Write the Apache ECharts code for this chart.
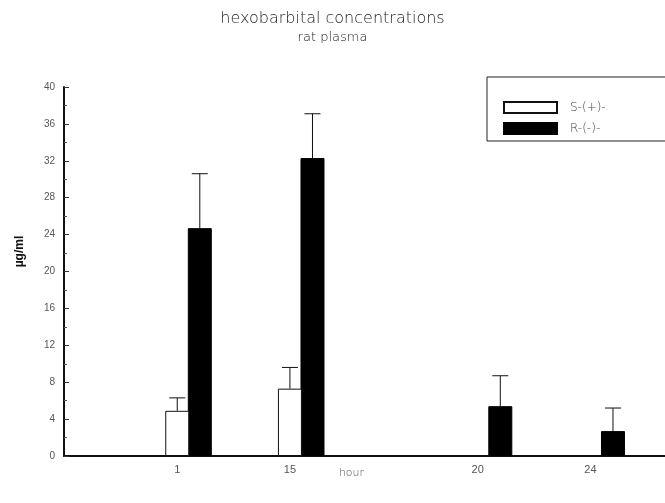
<!DOCTYPE html>
<html>
<head>
<meta charset="utf-8">
<script src="https://cdn.jsdelivr.net/npm/echarts@6/dist/echarts.min.js"></script>
<style>html,body{margin:0;padding:0;background:#fff}#c{width:665px;height:503px}</style>
</head>
<body>
<div id="c"></div>
<script>
// ---- data ----
const categories = ["1", "15", "20", "24"];          // x tick labels
const groupSlot = [0, 6, 16, 22];                     // axis slot of each category (uneven spacing in original)
const seriesNames = ["S-(+)-", "R-(-)-"];
const sValues = [4.9, 7.3, 0, 0];                     // µg/ml
const sErrors = [1.4, 2.3, 0, 0];
const rValues = [24.7, 32.3, 5.4, 2.7];
const rErrors = [5.9, 4.8, 3.3, 2.5];
const yTicks = [0, 4, 8, 12, 16, 20, 24, 28, 32, 36, 40];

// ---- style constants ----
const BAR_W = 24, BAR_GAP = -0.06;
const HALF_SHIFT = BAR_W * (1 + BAR_GAP) / 2;
const CAP = 16;

function pairs(vals) { return vals.map((v, i) => [groupSlot[i], v]); }
function errData(vals, errs) { return vals.map((v, i) => [groupSlot[i], v, errs[i]]); }

function errRender(shift) {
  return function (params, api) {
    const x = api.value(0), v = api.value(1), e = api.value(2);
    if (!e) return null;
    const lo = api.coord([x, v]);
    const hi = api.coord([x, v + e]);
    const cx = lo[0] + shift;
    const st = { stroke: '#111', lineWidth: 1 };
    return {
      type: 'group',
      children: [
        { type: 'line', shape: { x1: cx, y1: lo[1], x2: cx, y2: hi[1] }, style: st },
        { type: 'line', shape: { x1: cx - CAP / 2, y1: hi[1], x2: cx + CAP / 2, y2: hi[1] }, style: st }
      ]
    };
  };
}

const chart = echarts.init(document.getElementById('c'), null, { renderer: 'canvas' });
chart.setOption({
  animation: false,
  backgroundColor: '#fff',
  title: {
    text: 'hexobarbital concentrations',
    subtext: 'rat plasma',
    left: 'center',
    top: 6,
    itemGap: 4,
    textStyle: { fontFamily: 'DejaVu Sans', fontWeight: 200, fontSize: 16, color: '#222' },
    subtextStyle: { fontFamily: 'DejaVu Sans', fontWeight: 200, fontSize: 13, color: '#222' }
  },
  legend: {
    orient: 'vertical',
    left: 487,
    top: 77,
    padding: [24, 80, 6, 16],
    borderColor: '#222',
    borderWidth: 1,
    icon: 'rect',
    itemWidth: 53,
    itemHeight: 11,
    itemGap: 8,
    data: seriesNames,
    textStyle: { fontSize: 12, color: '#444', fontFamily: 'DejaVu Sans', fontWeight: 200, padding: [0, 0, 0, 8] }
  },
  grid: { left: 64, right: -7, top: 87, bottom: 47 },
  xAxis: {
    type: 'value',
    min: -6.63,
    max: 25.37,
    name: 'hour',
    nameLocation: 'middle',
    nameGap: 12,
    nameMoveOverlap: false,
    nameTextStyle: { fontSize: 11, color: '#555', fontFamily: 'DejaVu Sans', fontWeight: 200, padding: [0, 26, 0, 0] },
    splitLine: { show: false },
    axisLine: { show: true, onZero: false, lineStyle: { color: '#111', width: 2 } },
    axisTick: { show: false },
    axisLabel: {
      customValues: groupSlot,
      formatter: function (v) { const i = groupSlot.indexOf(v); return i >= 0 ? categories[i] : ''; },
      fontSize: 11, color: '#555', margin: 8,
      padding: [0, HALF_SHIFT * 2, 0, 0]
    }
  },
  yAxis: {
    type: 'value',
    min: yTicks[0],
    max: yTicks[yTicks.length - 1],
    interval: yTicks[1] - yTicks[0],
    name: 'µg/ml',
    nameLocation: 'middle',
    nameRotate: 90,
    nameGap: 38,
    nameTextStyle: { fontSize: 12, color: '#111', fontWeight: 'bold', padding: [0, 0, 0, 40] },
    splitLine: { show: false },
    axisLine: { show: true, onZero: false, lineStyle: { color: '#111', width: 2 } },
    axisTick: { show: true, inside: true, length: 5, lineStyle: { color: '#333' } },
    minorTick: { show: true, splitNumber: 2, length: 3, lineStyle: { color: '#555' } },
    axisLabel: { fontSize: 10, color: '#555', margin: 9 }
  },
  series: [
    {
      name: seriesNames[0], type: 'bar', z: 3,
      barWidth: BAR_W, barGap: (BAR_GAP * 100) + '%',
      itemStyle: { color: '#fff', borderColor: '#111', borderWidth: 1 },
      data: pairs(sValues)
    },
    {
      name: seriesNames[1], type: 'bar', z: 2,
      barWidth: BAR_W, barGap: (BAR_GAP * 100) + '%',
      itemStyle: { color: '#000', borderColor: '#000', borderWidth: 1 },
      data: pairs(rValues)
    },
    {
      type: 'custom', z: 5, silent: true,
      renderItem: errRender(-HALF_SHIFT),
      data: errData(sValues, sErrors)
    },
    {
      type: 'custom', z: 5, silent: true,
      renderItem: errRender(HALF_SHIFT),
      data: errData(rValues, rErrors)
    }
  ]
});
</script>
</body>
</html>
